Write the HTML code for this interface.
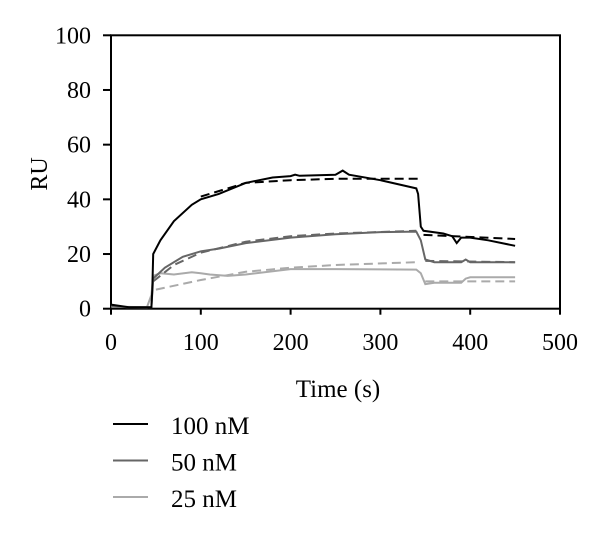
<!DOCTYPE html>
<html><head><meta charset="utf-8"><style>
body{margin:0;background:#fff;}
svg text{font-family:"Liberation Serif",serif;fill:#000;}
</style></head><body>
<svg id="c" width="600" height="532" xmlns="http://www.w3.org/2000/svg"></svg>
<script>
const xTicks=[0,100,200,300,400,500];
const yTicks=[0,20,40,60,80,100];
const t100=[0,20,45,46,47,55,70,90,100,120,150,180,200,205,210,250,258,265,300,340,342,345,348,370,380,385,390,400,420,450];
const v100=[1.5,0.5,0.5,7,20,25,32,38,40,42,46,48,48.5,49,48.6,49,50.5,49,47,44,42,30,28.5,27.5,26.5,24,26,26,25,23];
const tf100a=[100,150,200,250,345];
const vf100a=[41,46,47,47.5,47.5];
const tf100b=[348,450];
const vf100b=[27,25.5];
const t50=[0,20,45,47,60,80,100,120,150,200,250,300,340,345,350,360,390,395,400,450];
const v50=[1,0.5,0.5,11,15,19,21,22,24,26,27.2,28,28.2,25,18,17,17,18,17,17];
const tf50a=[47,70,100,150,200,250,340];
const vf50a=[10,16,20.5,24.5,26.5,27.5,28.5];
const tf50b=[350,450];
const vf50b=[17.5,17];
const t25=[0,40,45,47,55,70,90,100,110,130,150,200,250,340,345,350,360,390,395,400,450];
const v25=[0.8,0.5,5,12,13,12.5,13.3,13,12.5,12,12.5,14.5,14.5,14.3,13,9,9.5,9.5,11,11.5,11.5];
const tf25a=[50,100,150,200,250,340];
const vf25a=[7,10.5,13.5,15,16,17];
const tf25b=[350,450];
const vf25b=[10,10];
const legendLabels=["100 nM","50 nM","25 nM"];
const legendColors=["#000","#666","#aaa"];

const NS="http://www.w3.org/2000/svg";
const svg=document.getElementById('c');
const X0=111,X1=560,Y0=308.7,Y1=35.3;
const sx=v=>X0+(v-0)/(500-0)*(X1-X0);
const sy=v=>Y0-(v-0)/(100-0)*(Y0-Y1);
function mk(tag,attrs){const e=document.createElementNS(NS,tag);for(const k in attrs)e.setAttribute(k,attrs[k]);svg.appendChild(e);return e;}

const frame=mk('rect',{x:X0,y:Y1,width:X1-X0,height:Y0-Y1,fill:'none',stroke:'#000','stroke-width':2});



xTicks.forEach(v=>{
  const l=mk('line',{x1:sx(v),x2:sx(v),y1:Y0,y2:Y0+6,stroke:'#000','stroke-width':2});
  
  
  const t=mk('text',{x:sx(v),y:350,'text-anchor':'middle','font-size':24});
  t.textContent=v;
  
  
});
yTicks.forEach(v=>{
  const l=mk('line',{x1:X0-8,x2:X0,y1:sy(v),y2:sy(v),stroke:'#000','stroke-width':2});
  
  
  const t=mk('text',{x:X0-20,y:sy(v)+8,'text-anchor':'end','font-size':24});
  t.textContent=v;
  
  
});
const xt=mk('text',{x:338,y:397,'text-anchor':'middle','font-size':25});
xt.textContent='Time (s)';


const yt=mk('text',{x:0,y:0,'text-anchor':'middle','font-size':24,transform:'translate(47,174) rotate(-90)'});
yt.textContent='RU';



function line(ts,vs,color,dash,name){
  const d=ts.map((t,i)=>(i?'L':'M')+sx(t).toFixed(1)+','+sy(vs[i]).toFixed(1)).join(' ');
  const p=mk('path',{d:d,fill:'none',stroke:color,'stroke-width':2});
  if(dash)p.setAttribute('stroke-dasharray','9,5');
  
  
}
line(tf25a,vf25a,'#aaa',1,'fit-25nm');
line(tf25b,vf25b,'#aaa',1,'fit-25nm-dissociation');
line(t25,v25,'#aaa',0,'series-25nm');
line(tf50a,vf50a,'#666',1,'fit-50nm');
line(tf50b,vf50b,'#666',1,'fit-50nm-dissociation');
line(t50,v50,'#666',0,'series-50nm');
line(tf100a,vf100a,'#000',1,'fit-100nm');
line(tf100b,vf100b,'#000',1,'fit-100nm-dissociation');
line(t100,v100,'#000',0,'series-100nm');

legendLabels.forEach((lab,i)=>{
  const y=424+i*36.5;
  const l=mk('line',{x1:113,x2:148,y1:y,y2:y,stroke:legendColors[i],'stroke-width':2});
  
  
  const t=mk('text',{x:171,y:y+10,'font-size':25});
  t.textContent=lab;
  
  
});
</script>
</body></html>
